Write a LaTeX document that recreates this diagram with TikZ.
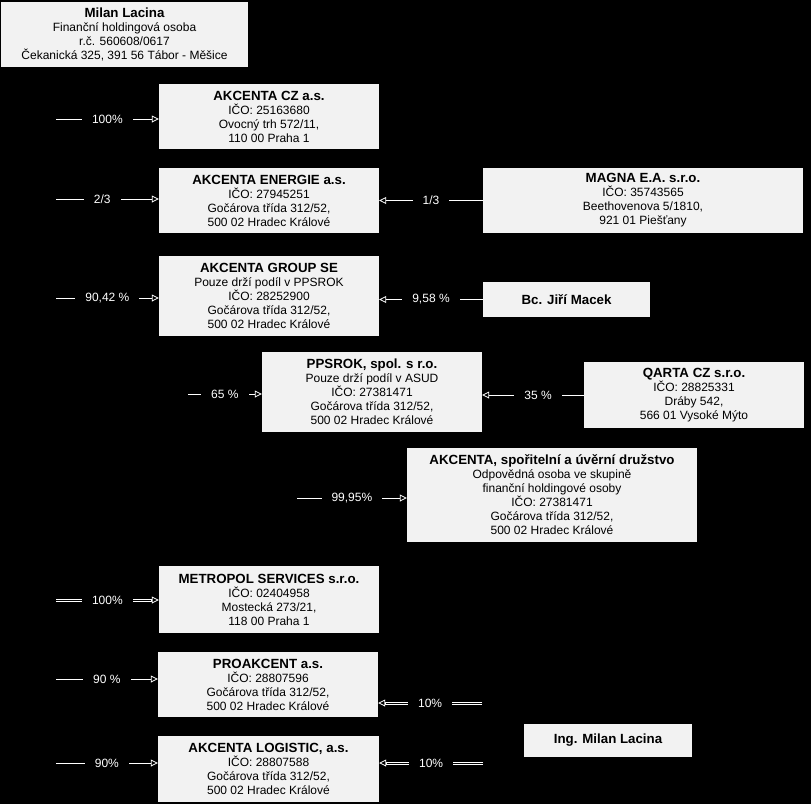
\documentclass[tikz,border=0pt]{standalone}
\usepackage{fontspec}
\setmainfont{Liberation Sans}
\usetikzlibrary{arrows.meta,calc}
\begin{document}
\begin{tikzpicture}[x=1pt,y=-1pt,
  box/.style={fill=boxgrey, draw=none, align=center, inner sep=0pt,
    font=\fontsize{12}{14}\selectfont, text=black},
  lbl/.style={fill=black, text=white, inner xsep=10pt, inner ysep=1pt,
    font=\fontsize{12}{14}\selectfont},
  conn/.style={draw=white, line width=0.8pt, -{Triangle[open, length=7pt, width=7pt]}},
  dbl/.style={draw=none,
    preaction={draw=white, line width=0.8pt, shorten >=7pt, transform canvas={yshift=1.1pt}},
    preaction={draw=white, line width=0.8pt, shorten >=7pt, transform canvas={yshift=-1.1pt}}},
  tip/.style={draw=white, line width=0.8pt, -{Triangle[open, length=7pt, width=7pt]}}]
\definecolor{boxgrey}{HTML}{F2F2F2}
\useasboundingbox (0,0) rectangle (811,804);
\fill[black] (0,0) rectangle (811,804);
\newcommand{\hd}[1]{{\fontsize{13.3}{14}\selectfont\bfseries #1}}

% boxes
\node[box, minimum width=247pt, minimum height=65pt] (milan) at (124.5,34.5)
  {\hd{Milan Lacina}\\Finanční holdingová osoba\\r.č. 560608/0617\\Čekanická 325, 391 56 Tábor - Měšice};
\node[box, minimum width=220pt, minimum height=65pt] (cz) at (269,116.5)
  {\hd{AKCENTA CZ a.s.}\\IČO: 25163680\\Ovocný trh 572/11,\\110 00 Praha 1};
\node[box, minimum width=220pt, minimum height=65pt] (energie) at (269,200.5)
  {\hd{AKCENTA ENERGIE a.s.}\\IČO: 27945251\\Gočárova třída 312/52,\\500 02 Hradec Králové};
\node[box, minimum width=320pt, minimum height=65pt] (magna) at (643,200.5)
  {\hd{MAGNA E.A. s.r.o.}\\IČO: 35743565\\Beethovenova 5/1810,\\921 01 Piešťany};
\node[box, minimum width=220pt, minimum height=80pt] (group) at (269,296)
  {\hd{AKCENTA GROUP SE}\\Pouze drží podíl v PPSROK\\IČO: 28252900\\Gočárova třída 312/52,\\500 02 Hradec Králové};
\node[box, minimum width=167pt, minimum height=35pt] (macek) at (566.5,299.5)
  {\hd{Bc. Jiří Macek}};
\node[box, minimum width=220pt, minimum height=80pt] (ppsrok) at (372,392)
  {\hd{PPSROK, spol. s r.o.}\\Pouze drží podíl v ASUD\\IČO: 27381471\\Gočárova třída 312/52,\\500 02 Hradec Králové};
\node[box, minimum width=220pt, minimum height=66pt] (qarta) at (694,395)
  {\hd{QARTA CZ s.r.o.}\\IČO: 28825331\\Dráby 542,\\566 01 Vysoké Mýto};
\node[box, minimum width=290pt, minimum height=94pt] (spor) at (552,495)
  {\hd{AKCENTA, spořitelní a úvěrní družstvo}\\Odpovědná osoba ve skupině\\finanční holdingové osoby\\IČO: 27381471\\Gočárova třída 312/52,\\500 02 Hradec Králové};
\node[box, minimum width=220pt, minimum height=67pt] (metro) at (269,599.5)
  {\hd{METROPOL SERVICES s.r.o.}\\IČO: 02404958\\Mostecká 273/21,\\118 00 Praha 1};
\node[box, minimum width=220pt, minimum height=65pt] (proak) at (268,684.5)
  {\hd{PROAKCENT a.s.}\\IČO: 28807596\\Gočárova třída 312/52,\\500 02 Hradec Králové};
\node[box, minimum width=168pt, minimum height=33pt] (ing) at (608,740.5)
  {\hd{Ing. Milan Lacina}};
\node[box, minimum width=221pt, minimum height=66pt] (logi) at (268.5,769)
  {\hd{AKCENTA LOGISTIC, a.s.}\\IČO: 28807588\\Gočárova třída 312/52,\\500 02 Hradec Králové};

% free ends
\coordinate (s1) at (56,119);
\coordinate (s2) at (56,199);
\coordinate (s3) at (56,298);
\coordinate (s4) at (188,394);
\coordinate (s5) at (297,498);
\coordinate (s6) at (56,600);
\coordinate (s7) at (56,679);
\coordinate (s8) at (56,763);
\coordinate (r1) at (482,703);
\coordinate (r2) at (483,763);

% connectors
\draw[conn] (s1) -- node[lbl]{100\%} (s1 -| cz.west);
\draw[conn] (s2) -- node[lbl, pos=0.45]{2/3} (s2 -| energie.west);
\draw[conn] (magna.west) -- node[lbl]{1/3} (magna.west -| energie.east);
\draw[conn] (s3) -- node[lbl]{90,42 \%} (s3 -| group.west);
\draw[conn] (macek.west) -- node[lbl]{9,58 \%} (macek.west -| group.east);
\draw[conn] (s4) -- node[lbl]{65 \%} (s4 -| ppsrok.west);
\draw[conn] (qarta.west) -- node[lbl, pos=0.45]{35 \%} (qarta.west -| ppsrok.east);
\draw[conn] (s5) -- node[lbl]{99,95\%} (s5 -| spor.west);
\draw[dbl] (s6) -- node[lbl]{100\%} (s6 -| metro.west);
\draw[tip] (s6 -| metro.west) ++(-8,0) -- (s6 -| metro.west);
\draw[conn] (s7) -- node[lbl]{90 \%} (s7 -| proak.west);
\draw[dbl] (r1) -- node[lbl]{10\%} (r1 -| proak.east);
\draw[tip] (r1 -| proak.east) ++(8,0) -- (r1 -| proak.east);
\draw[conn] (s8) -- node[lbl]{90\%} (s8 -| logi.west);
\draw[dbl] (r2) -- node[lbl]{10\%} (r2 -| logi.east);
\draw[tip] (r2 -| logi.east) ++(8,0) -- (r2 -| logi.east);
\end{tikzpicture}
\end{document}
